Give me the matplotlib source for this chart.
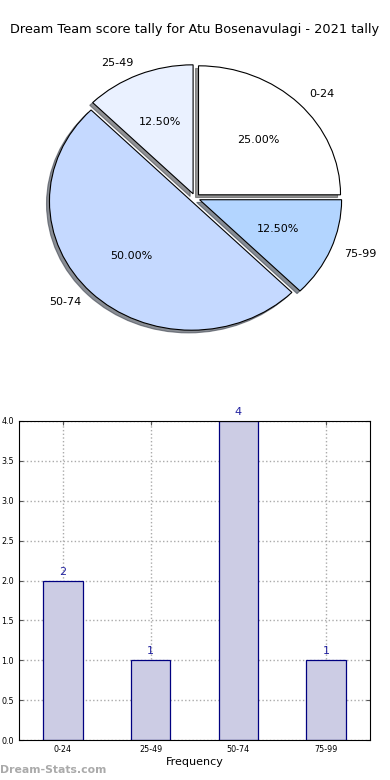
import matplotlib
matplotlib.use("Agg")
import matplotlib.pyplot as plt

title = "Dream Team score tally for Atu Bosenavulagi - 2021 tally"
categories = ["0-24", "25-49", "50-74", "75-99"]
counts = [2, 1, 4, 1]
pie_colors = ["#ffffff", "#eaf1ff", "#c5d9ff", "#b3d5ff"]
y_ticks = [0.0, 0.5, 1.0, 1.5, 2.0, 2.5, 3.0, 3.5, 4.0]

fig = plt.figure(figsize=(3.9, 7.8), dpi=100)

fig.text(0.5, 1 - 30 / 780, title, ha="center", va="center", fontsize=9.3)

# Pie (not forced round, like the old output)
ax1 = fig.add_axes([17.5 / 390, 1 - 359.25 / 780, 355 / 390, 322.5 / 780])
ax1.pie(counts, labels=categories, colors=pie_colors, explode=[0.035] * 4,
        autopct="%1.2f%%", shadow={"ox": -0.015, "oy": -0.015, "alpha": 0.6},
        wedgeprops=dict(edgecolor="black", linewidth=0.8),
        textprops=dict(fontsize=8))
ax1.set_aspect("auto")
ax1.set_xlim(-1.25, 1.25)
ax1.set_ylim(-1.25, 1.25)

# Bars
ax2 = fig.add_axes([19 / 390, 1 - 740 / 780, 351 / 390, 319 / 780])
x = range(len(categories))
bars = ax2.bar(x, counts, width=0.45, color="#ccccE4", edgecolor="#000080", linewidth=0.9, zorder=2)
for b, v in zip(bars, counts):
    ax2.text(b.get_x() + b.get_width() / 2, v + 0.05, str(v), ha="center", va="bottom",
             color="#2222a0", fontsize=8)
ax2.set_xlim(-0.5, 3.5)
ax2.set_ylim(0, 4)
ax2.set_xticks(list(x))
ax2.set_xticklabels(categories)
ax2.set_yticks(y_ticks)
ax2.set_yticklabels([f"{t:.1f}" for t in y_ticks])
ax2.tick_params(labelsize=5.8, direction="in", right=True, top=True, length=3, color="#555555")
ax2.grid(True, linestyle=":", color="#aaaaaa", linewidth=1.0, zorder=0)
ax2.set_axisbelow(True)
ax2.set_xlabel("Frequency", fontsize=8, labelpad=2)
for s in ax2.spines.values():
    s.set_linewidth(0.8)

fig.text(0, 1 - 770 / 780, "Dream-Stats.com", ha="left", va="center",
         fontsize=7.8, fontweight="bold", color="#aaaaaa")

fig.savefig("out.png", dpi=100)
